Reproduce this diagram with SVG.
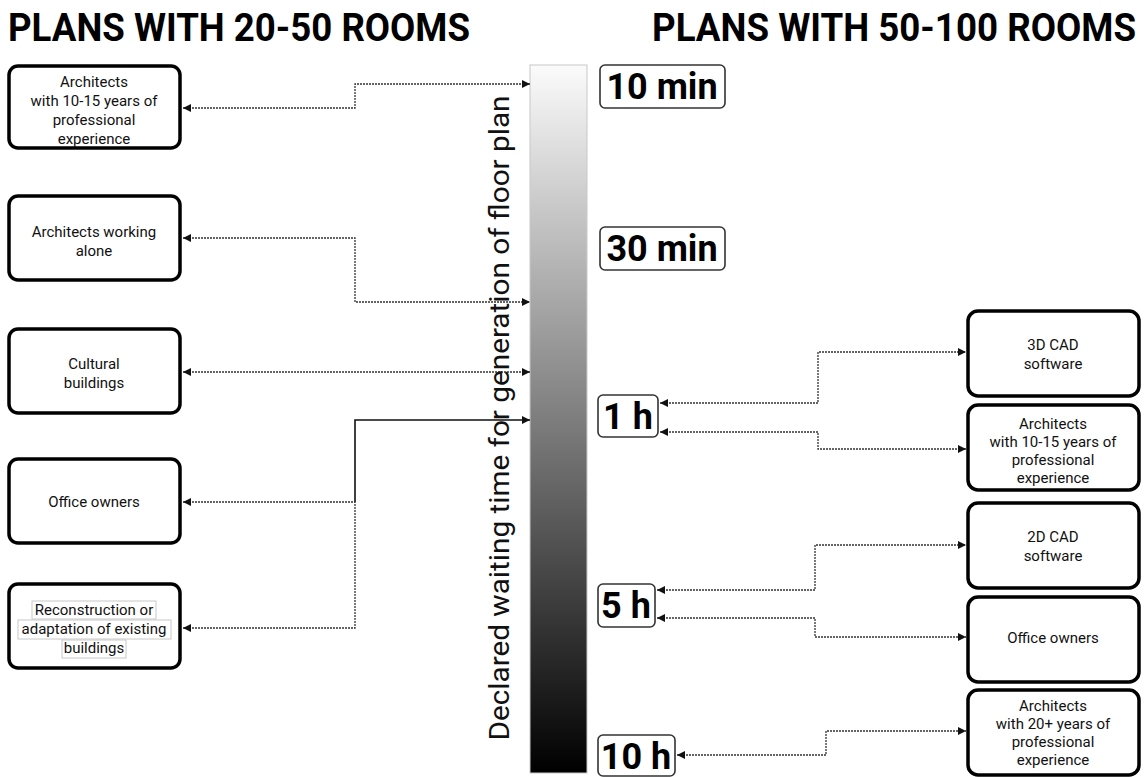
<svg xmlns="http://www.w3.org/2000/svg" width="1148" height="777" viewBox="0 0 1148 777">
<style>
.node{fill:#fff;stroke:#000;stroke-width:3.5}
.tbox{fill:#fff;stroke:#333;stroke-width:1.6}
.t{font-family:Roboto,"Liberation Sans",sans-serif;font-size:15px;fill:#111;text-anchor:middle}
.time{font-family:Roboto,"Liberation Sans",sans-serif;font-weight:bold;font-size:36px;fill:#000;text-anchor:middle}
.title{font-family:Roboto,"Liberation Sans",sans-serif;font-weight:bold;font-size:34px;fill:#000}
.dot{fill:none;stroke:#333;stroke-width:1.3;stroke-dasharray:2 1}
.sol{fill:none;stroke:#111;stroke-width:1.6}
.hl{fill:#fff;stroke:#c8c8c8;stroke-width:1}
</style>
<defs>
<linearGradient id="g" x1="0" y1="0" x2="0" y2="1">
<stop offset="0" stop-color="#fbfbfb"/>
<stop offset="1" stop-color="#000"/>
</linearGradient>
<marker id="ae" viewBox="0 0 10 10" refX="10" refY="5" markerWidth="8" markerHeight="8" markerUnits="userSpaceOnUse" orient="auto">
<path d="M0,0 L10,5 L0,10 z" fill="#111"/>
</marker>
<marker id="as" viewBox="0 0 10 10" refX="0" refY="5" markerWidth="8" markerHeight="8" markerUnits="userSpaceOnUse" orient="auto">
<path d="M10,0 L0,5 L10,10 z" fill="#111"/>
</marker>
</defs>
<rect width="1148" height="777" fill="#fff"/>

<text class="title" transform="translate(8,41) scale(1,1.15)" x="0" y="0" textLength="462" lengthAdjust="spacingAndGlyphs">PLANS WITH 20-50 ROOMS</text>
<text class="title" transform="translate(652,41) scale(1,1.15)" x="0" y="0" textLength="484" lengthAdjust="spacingAndGlyphs">PLANS WITH 50-100 ROOMS</text>

<g id="scale">
<rect x="530" y="65" width="57" height="708" fill="url(#g)" stroke="#c8c8c8" stroke-width="1"/>
</g>

<g id="connectors">
<path class="dot" d="M183,108 H355 V84 H530" marker-start="url(#as)" marker-end="url(#ae)"/>
<path class="dot" d="M183,238 H355 V302 H530" marker-start="url(#as)" marker-end="url(#ae)"/>
<path class="dot" d="M183,372 H530" marker-start="url(#as)" marker-end="url(#ae)"/>
<path class="sol" d="M355,502 V420 H530" marker-end="url(#ae)"/>
<path class="dot" d="M183,502 H355 V628 H183" marker-start="url(#as)" marker-end="url(#ae)"/>
<path class="dot" d="M660,403 H818 V352 H966" marker-start="url(#as)" marker-end="url(#ae)"/>
<path class="dot" d="M660,432 H818 V449 H966" marker-start="url(#as)" marker-end="url(#ae)"/>
<path class="dot" d="M657,590 H815 V545 H966" marker-start="url(#as)" marker-end="url(#ae)"/>
<path class="dot" d="M657,618 H815 V637 H966" marker-start="url(#as)" marker-end="url(#ae)"/>
<path class="dot" d="M677,755 H826 V731 H966" marker-start="url(#as)" marker-end="url(#ae)"/>
</g>

<text font-family="Roboto,'Liberation Sans',sans-serif" font-size="27" fill="#111" text-anchor="middle" transform="translate(509,418) rotate(-90)" textLength="645" lengthAdjust="spacingAndGlyphs">Declared waiting time for generation of floor plan</text>

<g id="t10min"><rect class="tbox" x="600" y="65" width="125" height="43" rx="5"/><text class="time" x="662" y="99">10 min</text></g>
<g id="t30min"><rect class="tbox" x="600" y="227" width="125" height="43" rx="5"/><text class="time" x="662" y="261">30 min</text></g>
<g id="t1h"><rect class="tbox" x="598" y="395" width="60" height="42" rx="5"/><text class="time" x="628" y="429">1 h</text></g>
<g id="t5h"><rect class="tbox" x="598" y="584" width="57" height="43" rx="5"/><text class="time" x="626" y="618">5 h</text></g>
<g id="t10h"><rect class="tbox" x="598" y="735" width="77" height="41" rx="5"/><text class="time" x="636" y="769">10 h</text></g>

<g id="l1"><rect class="node" x="9" y="66" width="171" height="82" rx="9"/>
<text class="t" x="94" y="87">Architects</text><text class="t" x="94" y="106">with 10-15 years of</text><text class="t" x="94" y="125">professional</text><text class="t" x="94" y="144">experience</text></g>
<g id="l2"><rect class="node" x="9" y="196" width="171" height="84" rx="9"/>
<text class="t" x="94" y="237">Architects working</text><text class="t" x="94" y="256">alone</text></g>
<g id="l3"><rect class="node" x="9" y="329" width="171" height="84" rx="9"/>
<text class="t" x="94" y="369">Cultural</text><text class="t" x="94" y="388">buildings</text></g>
<g id="l4"><rect class="node" x="9" y="459" width="171" height="84" rx="9"/>
<text class="t" x="94" y="507">Office owners</text></g>
<g id="l5"><rect class="node" x="9" y="584" width="171" height="84" rx="9"/>
<rect class="hl" x="32" y="601" width="124" height="18"/>
<rect class="hl" x="18" y="620" width="153" height="19"/>
<rect class="hl" x="62" y="640" width="64" height="18"/>
<text class="t" x="94" y="615">Reconstruction or</text><text class="t" x="94" y="634">adaptation of existing</text><text class="t" x="94" y="653">buildings</text></g>

<g id="r1"><rect class="node" x="968" y="311" width="171" height="85" rx="10"/>
<text class="t" x="1053" y="350">3D CAD</text><text class="t" x="1053" y="369">software</text></g>
<g id="r2"><rect class="node" x="968" y="405" width="171" height="85" rx="10"/>
<text class="t" x="1053" y="429">Architects</text><text class="t" x="1053" y="447">with 10-15 years of</text><text class="t" x="1053" y="465">professional</text><text class="t" x="1053" y="483">experience</text></g>
<g id="r3"><rect class="node" x="968" y="503" width="171" height="85" rx="10"/>
<text class="t" x="1053" y="542">2D CAD</text><text class="t" x="1053" y="561">software</text></g>
<g id="r4"><rect class="node" x="968" y="597" width="171" height="85" rx="10"/>
<text class="t" x="1053" y="643">Office owners</text></g>
<g id="r5"><rect class="node" x="968" y="690" width="171" height="85" rx="10"/>
<text class="t" x="1053" y="711">Architects</text><text class="t" x="1053" y="729">with 20+ years of</text><text class="t" x="1053" y="747">professional</text><text class="t" x="1053" y="765">experience</text></g>
</svg>
